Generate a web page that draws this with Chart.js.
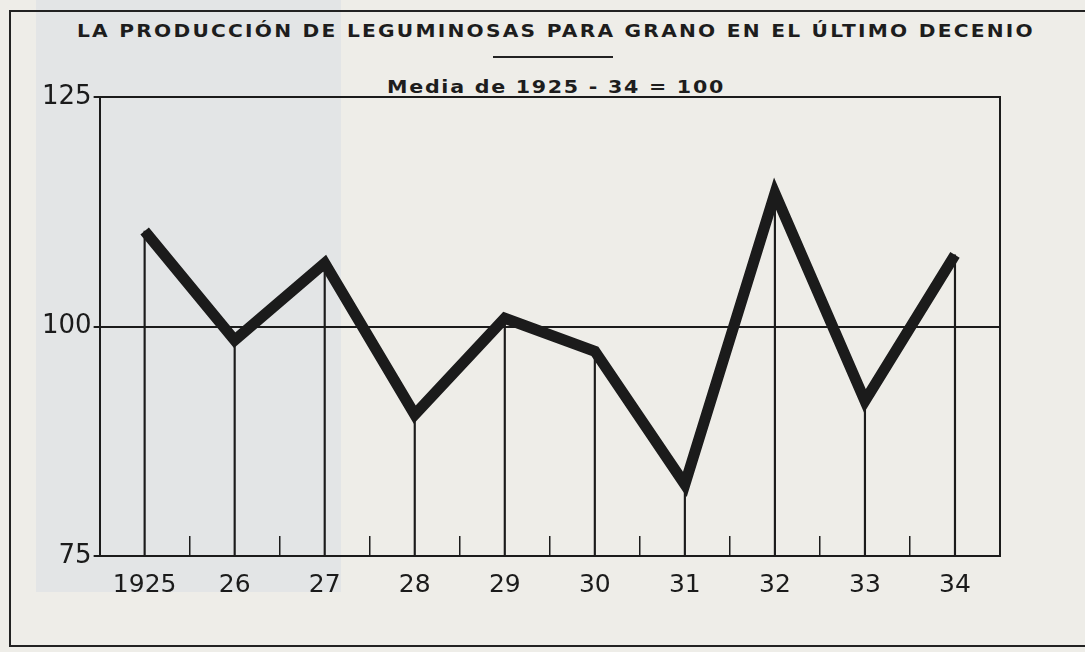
<!DOCTYPE html>
<html>
<head>
<meta charset="utf-8">
<script src="https://cdn.jsdelivr.net/npm/chart.js"></script>
<style>
  html, body { margin: 0; padding: 0; background: #eeede8; }
  #wrap { position: relative; width: 1085px; height: 652px; overflow: hidden; }
  #band { position: absolute; left: 36px; top: 0; width: 305px; height: 592px; background: #e3e5e6; }
  #frame { position: absolute; left: 9px; top: 10px; width: 1120px; height: 633px;
           border-left: 2px solid #222; border-top: 2px solid #222; border-bottom: 2px solid #222; }
  .head { position: absolute; font-family: "DejaVu Sans"; font-weight: bold; color: #1d1d1d;
          white-space: nowrap; font-size: 18px; line-height: 18px; transform-origin: 0 0; }
  #title { left: 77px; top: 22px; }
  #sub { left: 387px; top: 78px; }
  #rule { position: absolute; left: 493px; top: 56px; width: 120px; height: 2px; background: #222; }
  #box { position: absolute; left: 0; top: 0; width: 1085px; height: 652px; }
</style>
</head>
<body>
<div id="wrap">
  <div id="band"></div>
  <div id="frame"></div>
  <div id="title" class="head">LA PRODUCCIÓN DE LEGUMINOSAS PARA GRANO EN EL ÚLTIMO DECENIO</div>
  <div id="rule"></div>
  <div id="sub" class="head">Media de 1925 - 34 = 100</div>
  <div id="box"><canvas id="chart"></canvas></div>
</div>
<script>
const years = ["1925", "26", "27", "28", "29", "30", "31", "32", "33", "34"];
const indexValues = [110.4, 98.5, 106.9, 90.4, 100.9, 97.3, 82.8, 114.5, 91.9, 107.8];
const yMin = 75, yMax = 125, yStep = 25;

const ink = "#1b1b1b";

// wide printed lettering: a bit of spacing, then stretch to the printed width
function fitText(el, target, spacing) {
  el.style.letterSpacing = spacing + "px";
  const w = el.getBoundingClientRect().width;
  el.style.transform = "scaleX(" + (target / w) + ")";
}
fitText(document.getElementById("title"), 958, 2);
fitText(document.getElementById("sub"), 338, 1.5);

const ctx = document.getElementById("chart").getContext("2d");

new Chart(ctx, {
  data: {
    labels: years,
    datasets: [
      {
        type: "line",
        data: indexValues,
        borderColor: ink,
        borderWidth: 11,
        borderJoinStyle: "miter",
        borderCapStyle: "butt",
        pointRadius: 0,
        tension: 0,
        fill: false,
        order: 0
      },
      {
        // thin drop lines from the base up to each year's value
        type: "bar",
        data: indexValues.map(v => [yMin, v]),
        backgroundColor: ink,
        barThickness: 1.5,
        order: 1
      }
    ]
  },
  options: {
    responsive: true,
    maintainAspectRatio: false,
    animation: false,
    layout: { padding: { left: 40, right: 85, top: 97, bottom: 18 } },
    plugins: {
      legend: { display: false },
      tooltip: { enabled: false }
    },
    scales: {
      x: {
        type: "category",
        offset: true,
        grid: {
          offset: true,
          drawOnChartArea: false,
          drawTicks: true,
          tickLength: -20,
          color: ink,
          lineWidth: 1.5
        },
        border: { display: true, color: ink, width: 2 },
        ticks: {
          color: ink,
          padding: 34,
          font: { family: "DejaVu Sans", size: 25 }
        }
      },
      y: {
        min: yMin,
        max: yMax,
        ticks: {
          stepSize: yStep,
          color: ink,
          padding: 2,
          font: { family: "DejaVu Sans", size: 26 }
        },
        grid: { color: ink, lineWidth: 2, tickLength: 6 },
        border: { display: true, color: ink, width: 2 }
      },
      y2: {
        position: "right",
        min: yMin,
        max: yMax,
        ticks: { display: false },
        grid: { display: false, drawTicks: false },
        border: { display: true, color: ink, width: 2 }
      }
    }
  }
});
</script>
</body>
</html>
